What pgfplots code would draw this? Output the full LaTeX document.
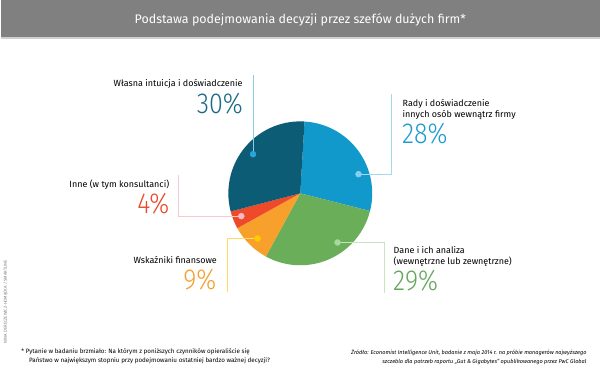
\documentclass[border=0pt]{standalone}
\usepackage{pgfplots}
\pgfplotsset{compat=1.18}
\usepackage{pgfplotstable}
\usepackage{fontspec}
\setmainfont{Fira Sans}
\newfontfamily\numfont{Fira Sans Light}
\definecolor{titlebg}{HTML}{808080}
\definecolor{titleline}{HTML}{CFCFCF}
\definecolor{cD}{HTML}{0B5C74}
\definecolor{cB}{HTML}{1199CC}
\definecolor{cG}{HTML}{6AAE5A}
\definecolor{cO}{HTML}{F7A02C}
\definecolor{cR}{HTML}{EE4A2A}
\definecolor{dD}{HTML}{2AA3D8}
\definecolor{dB}{HTML}{84D0F0}
\definecolor{dG}{HTML}{A8D8A0}
\definecolor{dO}{HTML}{FFCC00}
\definecolor{dR}{HTML}{F7B9C6}
\definecolor{lD}{HTML}{8CCDEA}
\definecolor{lB}{HTML}{A6D9EF}
\definecolor{lG}{HTML}{C8E5C0}
\definecolor{lO}{HTML}{FFD966}
\definecolor{lR}{HTML}{F9C8CF}
\definecolor{tD}{HTML}{1B6A85}
\definecolor{tB}{HTML}{1E9BD0}
\definecolor{tG}{HTML}{63A85A}
\definecolor{tO}{HTML}{F4A02E}
\definecolor{tR}{HTML}{E84A2C}
\newcommand{\fs}[1]{\fontsize{#1}{#1}\selectfont}
\newcommand{\pct}[1]{\scalebox{0.87}[1]{\fs{29}\numfont #1}}
\pgfplotstableread{
name value
B 28
G 29
O 9
R 4
D 30
}\piedata
\begin{document}
\begin{tikzpicture}
\pgfplotstablegetelem{0}{value}\of\piedata \let\vB\pgfplotsretval
\pgfplotstablegetelem{1}{value}\of\piedata \let\vG\pgfplotsretval
\pgfplotstablegetelem{2}{value}\of\piedata \let\vO\pgfplotsretval
\pgfplotstablegetelem{3}{value}\of\piedata \let\vR\pgfplotsretval
\pgfplotstablegetelem{4}{value}\of\piedata \let\vD\pgfplotsretval
\pgfmathsetmacro\aA{86.6}
\pgfmathsetmacro\aB{\aA-3.6*\vB}
\pgfmathsetmacro\aC{\aB-3.6*\vG}
\pgfmathsetmacro\aE{\aC-3.6*\vO}
\pgfmathsetmacro\aF{\aE-3.6*\vR}
\pgfmathsetmacro\aH{\aF-3.6*\vD}
\begin{axis}[
  width=600bp, height=375bp, scale only axis,
  xmin=0, xmax=600, ymin=0, ymax=375, y dir=reverse,
  hide axis, clip=false,
  every node/.append style={inner sep=0pt, outer sep=0pt},
]
\fill[white] (axis cs:0,0) rectangle (axis cs:600,375);
\fill[titlebg] (axis cs:0,0) rectangle (axis cs:600,37.3);
\fill[titleline] (axis cs:0,37.3) rectangle (axis cs:600,39);
\node[anchor=base, white] at (axis cs:300,23.5) {\fs{12.5}Podstawa podejmowania decyzji przez szefów dużych firm*};
% pie slices
\fill[cB] (axis cs:300,193.5) -- ([shift={(\aA:72bp)}]axis cs:300,193.5) arc[start angle=\aA, end angle=\aB, radius=72bp] -- cycle;
\fill[cG] (axis cs:300,193.5) -- ([shift={(\aB:72bp)}]axis cs:300,193.5) arc[start angle=\aB, end angle=\aC, radius=72bp] -- cycle;
\fill[cO] (axis cs:300,193.5) -- ([shift={(\aC:72bp)}]axis cs:300,193.5) arc[start angle=\aC, end angle=\aE, radius=72bp] -- cycle;
\fill[cR] (axis cs:300,193.5) -- ([shift={(\aE:72bp)}]axis cs:300,193.5) arc[start angle=\aE, end angle=\aF, radius=72bp] -- cycle;
\fill[cD] (axis cs:300,193.5) -- ([shift={(\aF:72bp)}]axis cs:300,193.5) arc[start angle=\aF, end angle=\aH, radius=72bp] -- cycle;
% leader lines
\addplot[lD, line width=0.8bp] coordinates {(252.7,154.3) (252.7,75)};
\addplot[lB, line width=0.8bp] coordinates {(358.3,174.3) (391.5,174.3) (391.5,94)};
\addplot[lG, line width=0.8bp] coordinates {(337.3,242.7) (384.3,242.7) (384.3,293)};
\addplot[lO, line width=0.8bp] coordinates {(257.3,238.7) (226.7,238.7) (226.7,292)};
\addplot[lR, line width=0.8bp] coordinates {(241,216.3) (178.3,216.3) (178.3,175)};
% dots
\addplot[only marks, mark=*, mark size=3bp, dD, mark options={draw=none}] coordinates {(252.7,154.3)};
\addplot[only marks, mark=*, mark size=3bp, dB, mark options={draw=none}] coordinates {(358.3,174.3)};
\addplot[only marks, mark=*, mark size=3bp, dG, mark options={draw=none}] coordinates {(337.3,242.7)};
\addplot[only marks, mark=*, mark size=3bp, dO, mark options={draw=none}] coordinates {(257.3,238.7)};
\addplot[only marks, mark=*, mark size=3bp, dR, mark options={draw=none}] coordinates {(241,216.3)};
% labels
\node[anchor=base east] at (axis cs:245.7,86.7) {\fs{9}Własna intuicja i doświadczenie};
\node[anchor=base east, tD] at (axis cs:246,113.3) {\pct{30\%}};
\node[anchor=base west] at (axis cs:399,106.7) {\fs{9}Rady i doświadczenie};
\node[anchor=base west] at (axis cs:399,117.7) {\fs{9}innych osób wewnątrz firmy};
\node[anchor=base west, tB] at (axis cs:398.5,144) {\pct{28\%}};
\node[anchor=base west] at (axis cs:390,253.3) {\fs{9}Dane i ich analiza};
\node[anchor=base west] at (axis cs:390,264.3) {\fs{9}(wewnętrzne lub zewnętrzne)};
\node[anchor=base west, tG] at (axis cs:389.5,291) {\pct{29\%}};
\node[anchor=base east] at (axis cs:172.3,187.3) {\fs{9}Inne (w tym konsultanci)};
\node[anchor=base east, tR] at (axis cs:172.5,213.3) {\pct{4\%}};
\node[anchor=base east] at (axis cs:220,263.3) {\fs{9}Wskaźniki finansowe};
\node[anchor=base east, tO] at (axis cs:219.5,289.3) {\pct{9\%}};
% footnote
\node[anchor=base west] at (axis cs:17.3,354) {\fs{6.3}* Pytanie w badaniu brzmiało: Na którym z poniższych czynników opieraliście się};
\node[anchor=base west] at (axis cs:25,363.3) {\fs{6.3}Państwo w największym stopniu przy podejmowaniu ostatniej bardzo ważnej decyzji?};
\node[anchor=base east] at (axis cs:590,354.7) {\fs{5.6}\itshape Źródło: Economist Intelligence Unit, badanie z maja 2014 r. na próbie managerów najwyższego};
\node[anchor=base east] at (axis cs:590,364) {\fs{5.6}\itshape szczebla dla potrzeb raportu „Gut \& Gigabytes” opublikowanego przez  PwC Global};
\node[rotate=90, gray] at (axis cs:5,302) {\fs{4.3}NINA DERECZEWICZ-HOMĄCKA / SMARTLINE};
\end{axis}
\end{tikzpicture}
\end{document}
